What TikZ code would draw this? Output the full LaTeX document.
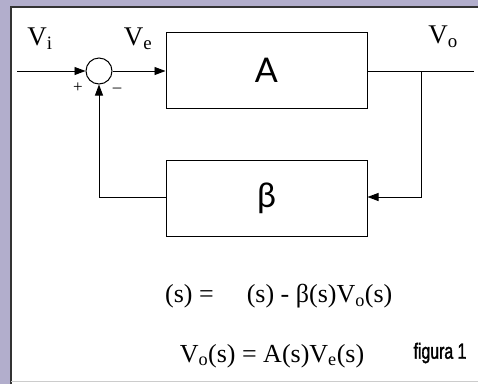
\documentclass[tikz,border=0pt]{standalone}
\usepackage{fontspec}
\setmainfont{Liberation Serif}
\newfontfamily\blockfont{Lato}
\newfontfamily\figfont[FakeStretch=0.72,FakeBold=1.5]{Liberation Sans}
\usetikzlibrary{arrows.meta}
\definecolor{purp}{RGB}{178,174,204}
\begin{document}
\begin{tikzpicture}[x=1pt,y=-1pt,
  conn/.style={line width=0.9pt},
  arr/.style={conn,-{Triangle[length=11pt,width=8pt]}},
  blockbox/.style={draw,line width=1pt,minimum width=201pt,minimum height=76pt,inner sep=0pt},
  sumnode/.style={draw,circle,line width=1pt,minimum size=26pt,inner sep=0pt},
  lbl/.style={font=\fontsize{27}{30}\selectfont,inner sep=0pt},
  sgn/.style={font=\fontsize{17}{19}\selectfont,inner sep=0pt},
  eqn/.style={font=\fontsize{26}{30}\selectfont,inner sep=0pt}]
\useasboundingbox (0,0) rectangle (478,384);
\fill[white] (0,0) rectangle (478,384);
% frame
\fill[purp] (0,0) rectangle (478,6);
\fill[purp] (0,0) rectangle (10,384);
\draw[black!80,line width=2pt] (11,384) -- (11,7) -- (478,7);
\draw[black!20,line width=1pt] (11,381) -- (478,381);
% nodes
\node[sumnode] (sum) at (99,71) {};
\node[blockbox] (A) at (266.5,70) {\blockfont\fontsize{34}{38}\selectfont A};
\node[blockbox] (B) at (266.5,198.5) {\blockfont\fontsize{34}{38}\selectfont β};
\coordinate (in) at (17,71);
\coordinate (out) at (474,71);
\coordinate (br) at (421,71);
\coordinate (brd) at (421,197);
\coordinate (fb) at (99,197);
% connectors
\draw[arr] (in) -- (sum.west);
\draw[arr] (sum.east) -- (sum.east -| A.west);
\draw[conn] (A.east |- out) -- (out);
\draw[arr] (br) -- (brd) -- (brd -| B.east);
\draw[arr] (brd -| B.west) -- (fb) -- (sum.south);
% labels
\node[lbl] (vi) at (40,39) {V\textsubscript{i}};
\node[lbl] (ve) at (138,39) {V\textsubscript{e}};
\node[lbl] (vo) at (443,37) {V\textsubscript{o}};
\node[sgn] (plus) at (78,88) {+};
\node[sgn] (minus) at (117,90) {–};
% equations
\node[eqn,anchor=west] (eq1) at (165,296) {(s) =\hspace{33pt}(s) - β(s)V\textsubscript{o}(s)};
\node[eqn] (eq2) at (272,356) {V\textsubscript{o}(s) = A(s)V\textsubscript{e}(s)};
\node[inner sep=0pt] (fig) at (440,353) {\figfont\fontsize{22}{24}\selectfont figura 1};
\end{tikzpicture}
\end{document}
